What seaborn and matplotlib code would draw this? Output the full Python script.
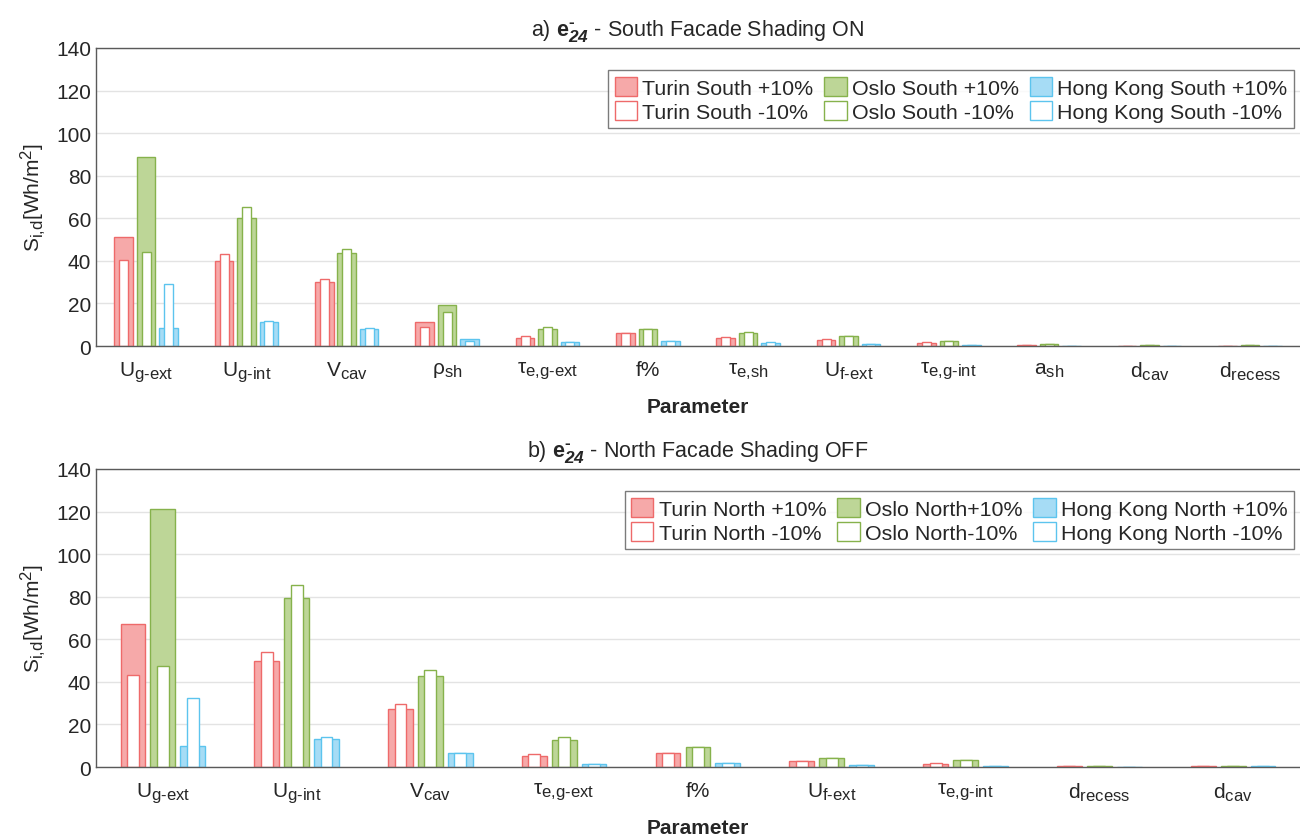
import numpy as np
import pandas as pd
import matplotlib
matplotlib.use('Agg')
import matplotlib.pyplot as plt
import matplotlib._mathtext as mathtext_internals
import seaborn as sns
from matplotlib.patches import Patch

# data (S_i,d in Wh/m2)
params_a = [r'U$_{\mathrm{g‐ext}}$', r'U$_{\mathrm{g‐int}}$', r'V$_{\mathrm{cav}}$', r'ρ$_{\mathrm{sh}}$',
            r'τ$_{\mathrm{e{,}g‐ext}}$', 'f%', r'τ$_{\mathrm{e{,}sh}}$', r'U$_{\mathrm{f‐ext}}$',
            r'τ$_{\mathrm{e{,}g‐int}}$', r'a$_{\mathrm{sh}}$', r'd$_{\mathrm{cav}}$', r'd$_{\mathrm{recess}}$']
turin_plus_a = [51.3, 40.0, 30.0, 11.2, 4.0, 6.0, 3.7, 2.8, 1.5, 0.5, 0.2, 0.1]
turin_minus_a = [40.5, 43.4, 31.4, 8.9, 4.7, 6.0, 4.2, 3.2, 1.7, 0.5, 0.2, 0.1]
oslo_plus_a = [88.9, 60.0, 43.9, 19.5, 8.0, 8.2, 6.2, 4.5, 2.2, 0.8, 0.5, 0.5]
oslo_minus_a = [44.0, 65.5, 45.6, 15.8, 8.7, 8.2, 6.8, 4.5, 2.2, 0.8, 0.5, 0.5]
hk_plus_a = [8.6, 11.1, 8.2, 3.5, 1.8, 2.2, 1.5, 0.9, 0.5, 0.1, 0.1, 0.1]
hk_minus_a = [28.9, 11.9, 8.6, 2.5, 2.0, 2.2, 1.8, 0.9, 0.5, 0.1, 0.1, 0.1]

params_b = [r'U$_{\mathrm{g‐ext}}$', r'U$_{\mathrm{g‐int}}$', r'V$_{\mathrm{cav}}$', r'τ$_{\mathrm{e{,}g‐ext}}$',
            'f%', r'U$_{\mathrm{f‐ext}}$', r'τ$_{\mathrm{e{,}g‐int}}$', r'd$_{\mathrm{recess}}$', r'd$_{\mathrm{cav}}$']
turin_plus_b = [67.4, 50.0, 27.3, 5.0, 6.7, 2.7, 1.4, 0.4, 0.3]
turin_minus_b = [43.2, 54.1, 29.6, 5.9, 6.7, 2.7, 1.9, 0.4, 0.3]
oslo_plus_b = [121.3, 79.2, 42.8, 12.5, 9.2, 4.4, 3.4, 0.4, 0.3]
oslo_minus_b = [47.4, 85.6, 45.8, 14.1, 9.2, 4.4, 3.4, 0.4, 0.3]
hk_plus_b = [9.7, 13.1, 6.4, 1.4, 2.0, 0.8, 0.6, 0.0, 0.3]
hk_minus_b = [32.4, 14.0, 6.8, 1.4, 2.0, 0.8, 0.6, 0.0, 0.3]

cities = ['Turin', 'Oslo', 'Hong Kong']
fill_colors = ['#F6A9A9', '#BDD697', '#A6DCF5']
edge_colors = ['#EE6A6A', '#86B24C', '#5CC4EE']

sns.set_style('white')
plt.rcParams['font.family'] = ['Liberation Sans', 'DejaVu Sans']
plt.rcParams['mathtext.fontset'] = 'custom'
plt.rcParams['mathtext.rm'] = 'Liberation Sans'
plt.rcParams['mathtext.it'] = 'Liberation Sans:italic'
plt.rcParams['mathtext.bf'] = 'Liberation Sans:bold'
plt.rcParams['mathtext.bfit'] = 'Liberation Sans:bold:italic'
mathtext_internals.SHRINK_FACTOR = 0.8   # larger sub/superscripts, like the original

FS = 15
FS_LEG = 15.4


def long_df(params, t, o, h):
    rows = []
    for i, p in enumerate(params):
        rows.append((p, 'Turin', t[i]))
        rows.append((p, 'Oslo', o[i]))
        rows.append((p, 'Hong Kong', h[i]))
    return pd.DataFrame(rows, columns=['param', 'city', 'value'])


def panel(ax, params, tp, tm, op, om, hp, hm, title, region, osep):
    plus = long_df(params, tp, op, hp)
    minus = long_df(params, tm, om, hm)
    ax.yaxis.grid(True, color='#E3E3E3', linewidth=1.0)
    ax.set_axisbelow(True)
    sns.barplot(data=plus, x='param', y='value', hue='city', order=params, hue_order=cities,
                palette=fill_colors, saturation=1, width=0.67, gap=0.17, errorbar=None,
                legend=False, linewidth=1.0, ax=ax)
    n0 = len(ax.containers)
    sns.barplot(data=minus, x='param', y='value', hue='city', order=params, hue_order=cities,
                palette=['white'] * 3, saturation=1, width=0.67, gap=0.6, errorbar=None,
                legend=False, linewidth=1.0, ax=ax)
    for k, cont in enumerate(ax.containers[:n0]):
        for bar in cont:
            bar.set_edgecolor(edge_colors[k])
    for k, cont in enumerate(ax.containers[n0:]):
        for bar in cont:
            bar.set_edgecolor(edge_colors[k])
            bar.set_facecolor('white')

    ax.set_ylim(0, 140)
    ax.set_yticks(np.arange(0, 141, 20))
    ax.set_xlim(-0.5, len(params) - 0.5)
    ax.tick_params(axis='y', direction='in', length=4, labelsize=FS, colors='#262626')
    ax.tick_params(axis='x', length=0, labelsize=FS, pad=10)
    for s in ['left', 'bottom', 'top']:
        ax.spines[s].set_color('#5A5A5A')
        ax.spines[s].set_linewidth(1.0)
    ax.spines['right'].set_visible(False)
    ax.set_xlabel('Parameter', fontsize=FS, fontweight='bold', labelpad=9)
    ax.set_ylabel(r'S$_{\mathrm{i{,}d}}$[Wh/m$^{2}$]', fontsize=FS, labelpad=6)
    ax.set_title(title, fontsize=15.5, pad=9)

    handles = []
    for k, c in enumerate(cities):
        handles.append(Patch(facecolor=fill_colors[k], edgecolor=edge_colors[k],
                             label=f'{c} {region}{osep if c == "Oslo" else " "}+10%'))
        handles.append(Patch(facecolor='white', edgecolor=edge_colors[k],
                             label=f'{c} {region}{osep if c == "Oslo" else " "}-10%'))
    leg = ax.legend(handles=handles, ncol=3, loc='upper right', bbox_to_anchor=(0.995, 0.925),
                    borderaxespad=0, fontsize=FS_LEG, frameon=True, fancybox=False,
                    handlelength=1.05, handleheight=1.0, handletextpad=0.25,
                    columnspacing=0.5, labelspacing=0.15, borderpad=0.3)
    leg.get_frame().set_edgecolor('#5A5A5A')
    leg.get_frame().set_linewidth(1.0)


fig = plt.figure(figsize=(13, 8.37), dpi=100)
ax1 = fig.add_axes([0.0738, 0.5854, 0.9262, 0.3561])
ax2 = fig.add_axes([0.0738, 0.0824, 0.9262, 0.3561])

panel(ax1, params_a, turin_plus_a, turin_minus_a, oslo_plus_a, oslo_minus_a, hk_plus_a, hk_minus_a,
      r'a) $\mathbf{e}_{\mathbfit{24}}^{\mathbf{‐}}$ - South Facade Shading ON', 'South', ' ')
panel(ax2, params_b, turin_plus_b, turin_minus_b, oslo_plus_b, oslo_minus_b, hk_plus_b, hk_minus_b,
      r'b) $\mathbf{e}_{\mathbfit{24}}^{\mathbf{‐}}$ - North Facade Shading OFF', 'North', '')

fig.savefig('out.png', dpi=100)
